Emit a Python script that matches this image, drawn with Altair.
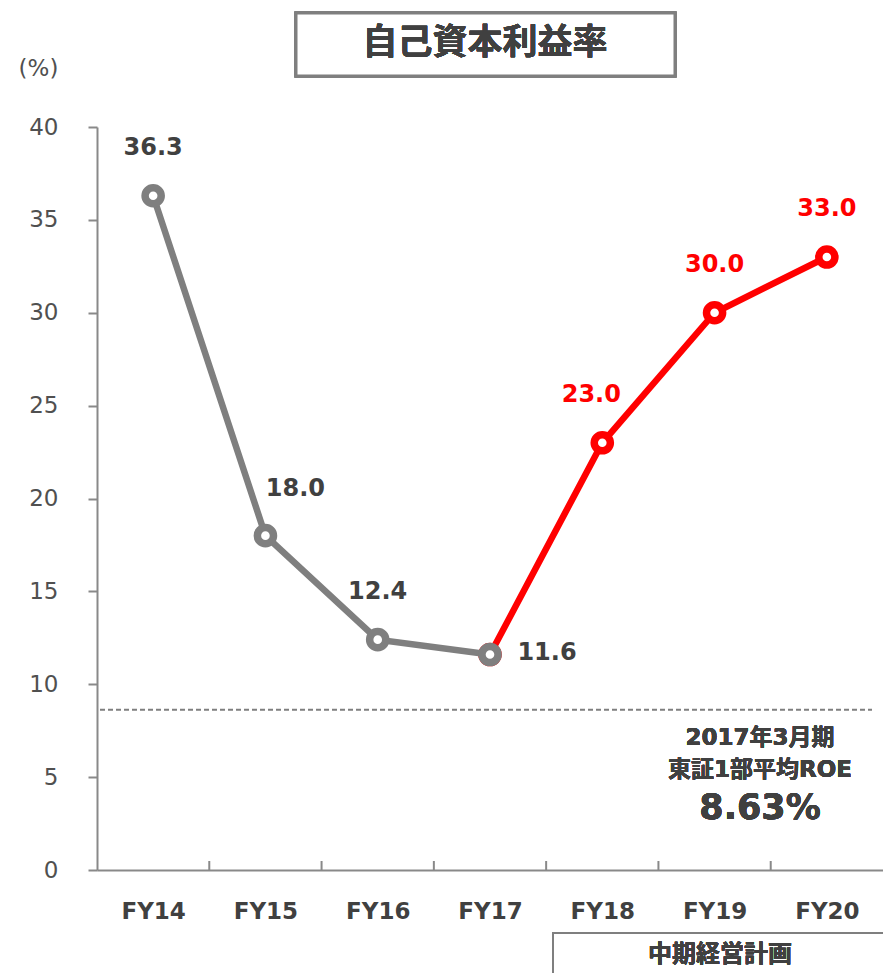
import altair as alt
import pandas as pd

# Return on equity by fiscal year (%)
years = ["FY14", "FY15", "FY16", "FY17", "FY18", "FY19", "FY20"]
roe = [36.3, 18.0, 12.4, 11.6, 23.0, 30.0, 33.0]
# FY14-FY17 are results, FY17-FY20 is the mid-term plan path
actual_years = ["FY14", "FY15", "FY16", "FY17"]
plan_years = ["FY17", "FY18", "FY19", "FY20"]
tse_avg_roe = 8.63

FONT = "DejaVu Sans, Noto Sans CJK JP"
GRAY = "#7f7f7f"
RED = "#ff0000"
DARK = "#404040"
W, H = 786, 743
STEP = W / len(years)

df = pd.DataFrame({"year": years, "roe": roe})
df["label"] = df["roe"].map(lambda v: f"{v:.1f}")
actual = df[df["year"].isin(actual_years)]
plan = df[df["year"].isin(plan_years)]

x_enc = alt.X(
    "year:N",
    sort=years,
    scale=alt.Scale(type="point", domain=years, padding=0.5),
    axis=alt.Axis(
        title=None, labelAngle=0, ticks=False, domainColor="#898989", domainWidth=2,
        labelFont=FONT, labelFontSize=23, labelFontWeight="bold", labelColor=DARK,
        labelPadding=30,
    ),
)
y_enc = alt.Y(
    "roe:Q",
    scale=alt.Scale(domain=[0, 40], nice=False),
    axis=alt.Axis(
        values=list(range(0, 41, 5)), grid=False, domainColor="#898989", domainWidth=2,
        tickColor="#898989", tickWidth=2, tickSize=9, labelPadding=30,
        labelFont=FONT, labelFontSize=23, labelColor="#505050",
        title="(%)", titleAngle=0, titleX=-59, titleY=-59, titleAlign="center",
        titleBaseline="middle", titleFont=FONT, titleFontSize=23,
        titleFontWeight="normal", titleColor="#505050",
    ),
)

base = alt.Chart(df)

# category separators on the x axis (left edge of each band after the first)
sep = (
    alt.Chart(pd.DataFrame({"year": years[1:]}))
    .mark_rule(color="#898989", strokeWidth=2, xOffset=-STEP / 2)
    .encode(x=x_enc, y=alt.value(H), y2=alt.value(H - 9))
)

# TSE Prime average ROE reference line
ref = (
    alt.Chart(pd.DataFrame({"roe": [tse_avg_roe]}))
    .mark_rule(color=GRAY, strokeWidth=2, strokeDash=[5, 3])
    .encode(y=alt.Y("roe:Q", scale=alt.Scale(domain=[0, 40], nice=False)),
            x=alt.value(3), x2=alt.value(775))
)

def line_layer(data, color):
    c = alt.Chart(data)
    line = c.mark_line(color=color, strokeWidth=6.5).encode(x=x_enc, y=y_enc)
    pts = c.mark_point(shape="circle", size=260, filled=False, fill="white",
                       fillOpacity=1, stroke=color, strokeWidth=7.5, opacity=1).encode(x=x_enc, y=y_enc)
    return line, pts

red_line, red_pts = line_layer(plan, RED)
gray_line, gray_pts = line_layer(actual, GRAY)

# value labels, with offsets for the ones that sit beside their point
label_offsets = {"FY15": (30, -47), "FY17": (57, -2), "FY18": (-11, -48)}
label_layers = []
for yr in years:
    dx, dy = label_offsets.get(yr, (0, -48))
    tcolor = DARK if yr in actual_years else RED
    label_layers.append(
        alt.Chart(df[df["year"] == yr])
        .mark_text(font=FONT, fontSize=24, fontWeight="bold", color=tcolor,
                   dx=dx, dy=dy, align="center", baseline="middle")
        .encode(x=x_enc, y=y_enc, text="label:N")
    )

# chart title in a framed box
title_box = base.mark_rect(fill="white", stroke=GRAY, strokeWidth=3).encode(
    x=alt.value(199), x2=alt.value(578), y=alt.value(-114), y2=alt.value(-51)
)
title_txt = base.mark_text(font=FONT, fontSize=35, fontWeight="bold", color=DARK,
                           align="center", baseline="middle").encode(
    x=alt.value(388), y=alt.value(-84), text=alt.value("自己資本利益率")
)

# reference line annotation
ann1 = base.mark_text(font=FONT, fontSize=23, fontWeight="bold", color=DARK,
                      align="center", baseline="middle").encode(
    x=alt.value(663), y=alt.value(611), text=alt.value("2017年3月期")
)
ann2 = base.mark_text(font=FONT, fontSize=23, fontWeight="bold", color=DARK,
                      align="center", baseline="middle").encode(
    x=alt.value(663), y=alt.value(643), text=alt.value("東証1部平均ROE")
)
ann3 = base.mark_text(font=FONT, fontSize=35, fontWeight="bold", color=DARK,
                      align="center", baseline="middle").encode(
    x=alt.value(663), y=alt.value(681), text=alt.value(f"{tse_avg_roe}%")
)

# mid-term plan bracket under FY18-FY20
plan_box = base.mark_rect(fill="white", stroke=GRAY, strokeWidth=2).encode(
    x=alt.value(456), x2=alt.value(820), y=alt.value(806), y2=alt.value(880)
)
plan_txt = base.mark_text(font=FONT, fontSize=24, fontWeight="bold", color=DARK,
                          align="center", baseline="middle").encode(
    x=alt.value(623), y=alt.value(828), text=alt.value("中期経営計画")
)

chart = (
    alt.layer(
        ref, sep, red_line, red_pts, gray_line, gray_pts, *label_layers,
        title_box, title_txt, ann1, ann2, ann3, plan_box, plan_txt,
    )
    .properties(
        width=W, height=H,
        autosize=alt.AutoSizeParams(type="none"),
        padding={"left": 97, "top": 127, "right": 0, "bottom": 103},
        background="white",
    )
    .configure_view(stroke=None)
)

chart.save("out.html", embed_options={"renderer": "svg", "actions": False})
